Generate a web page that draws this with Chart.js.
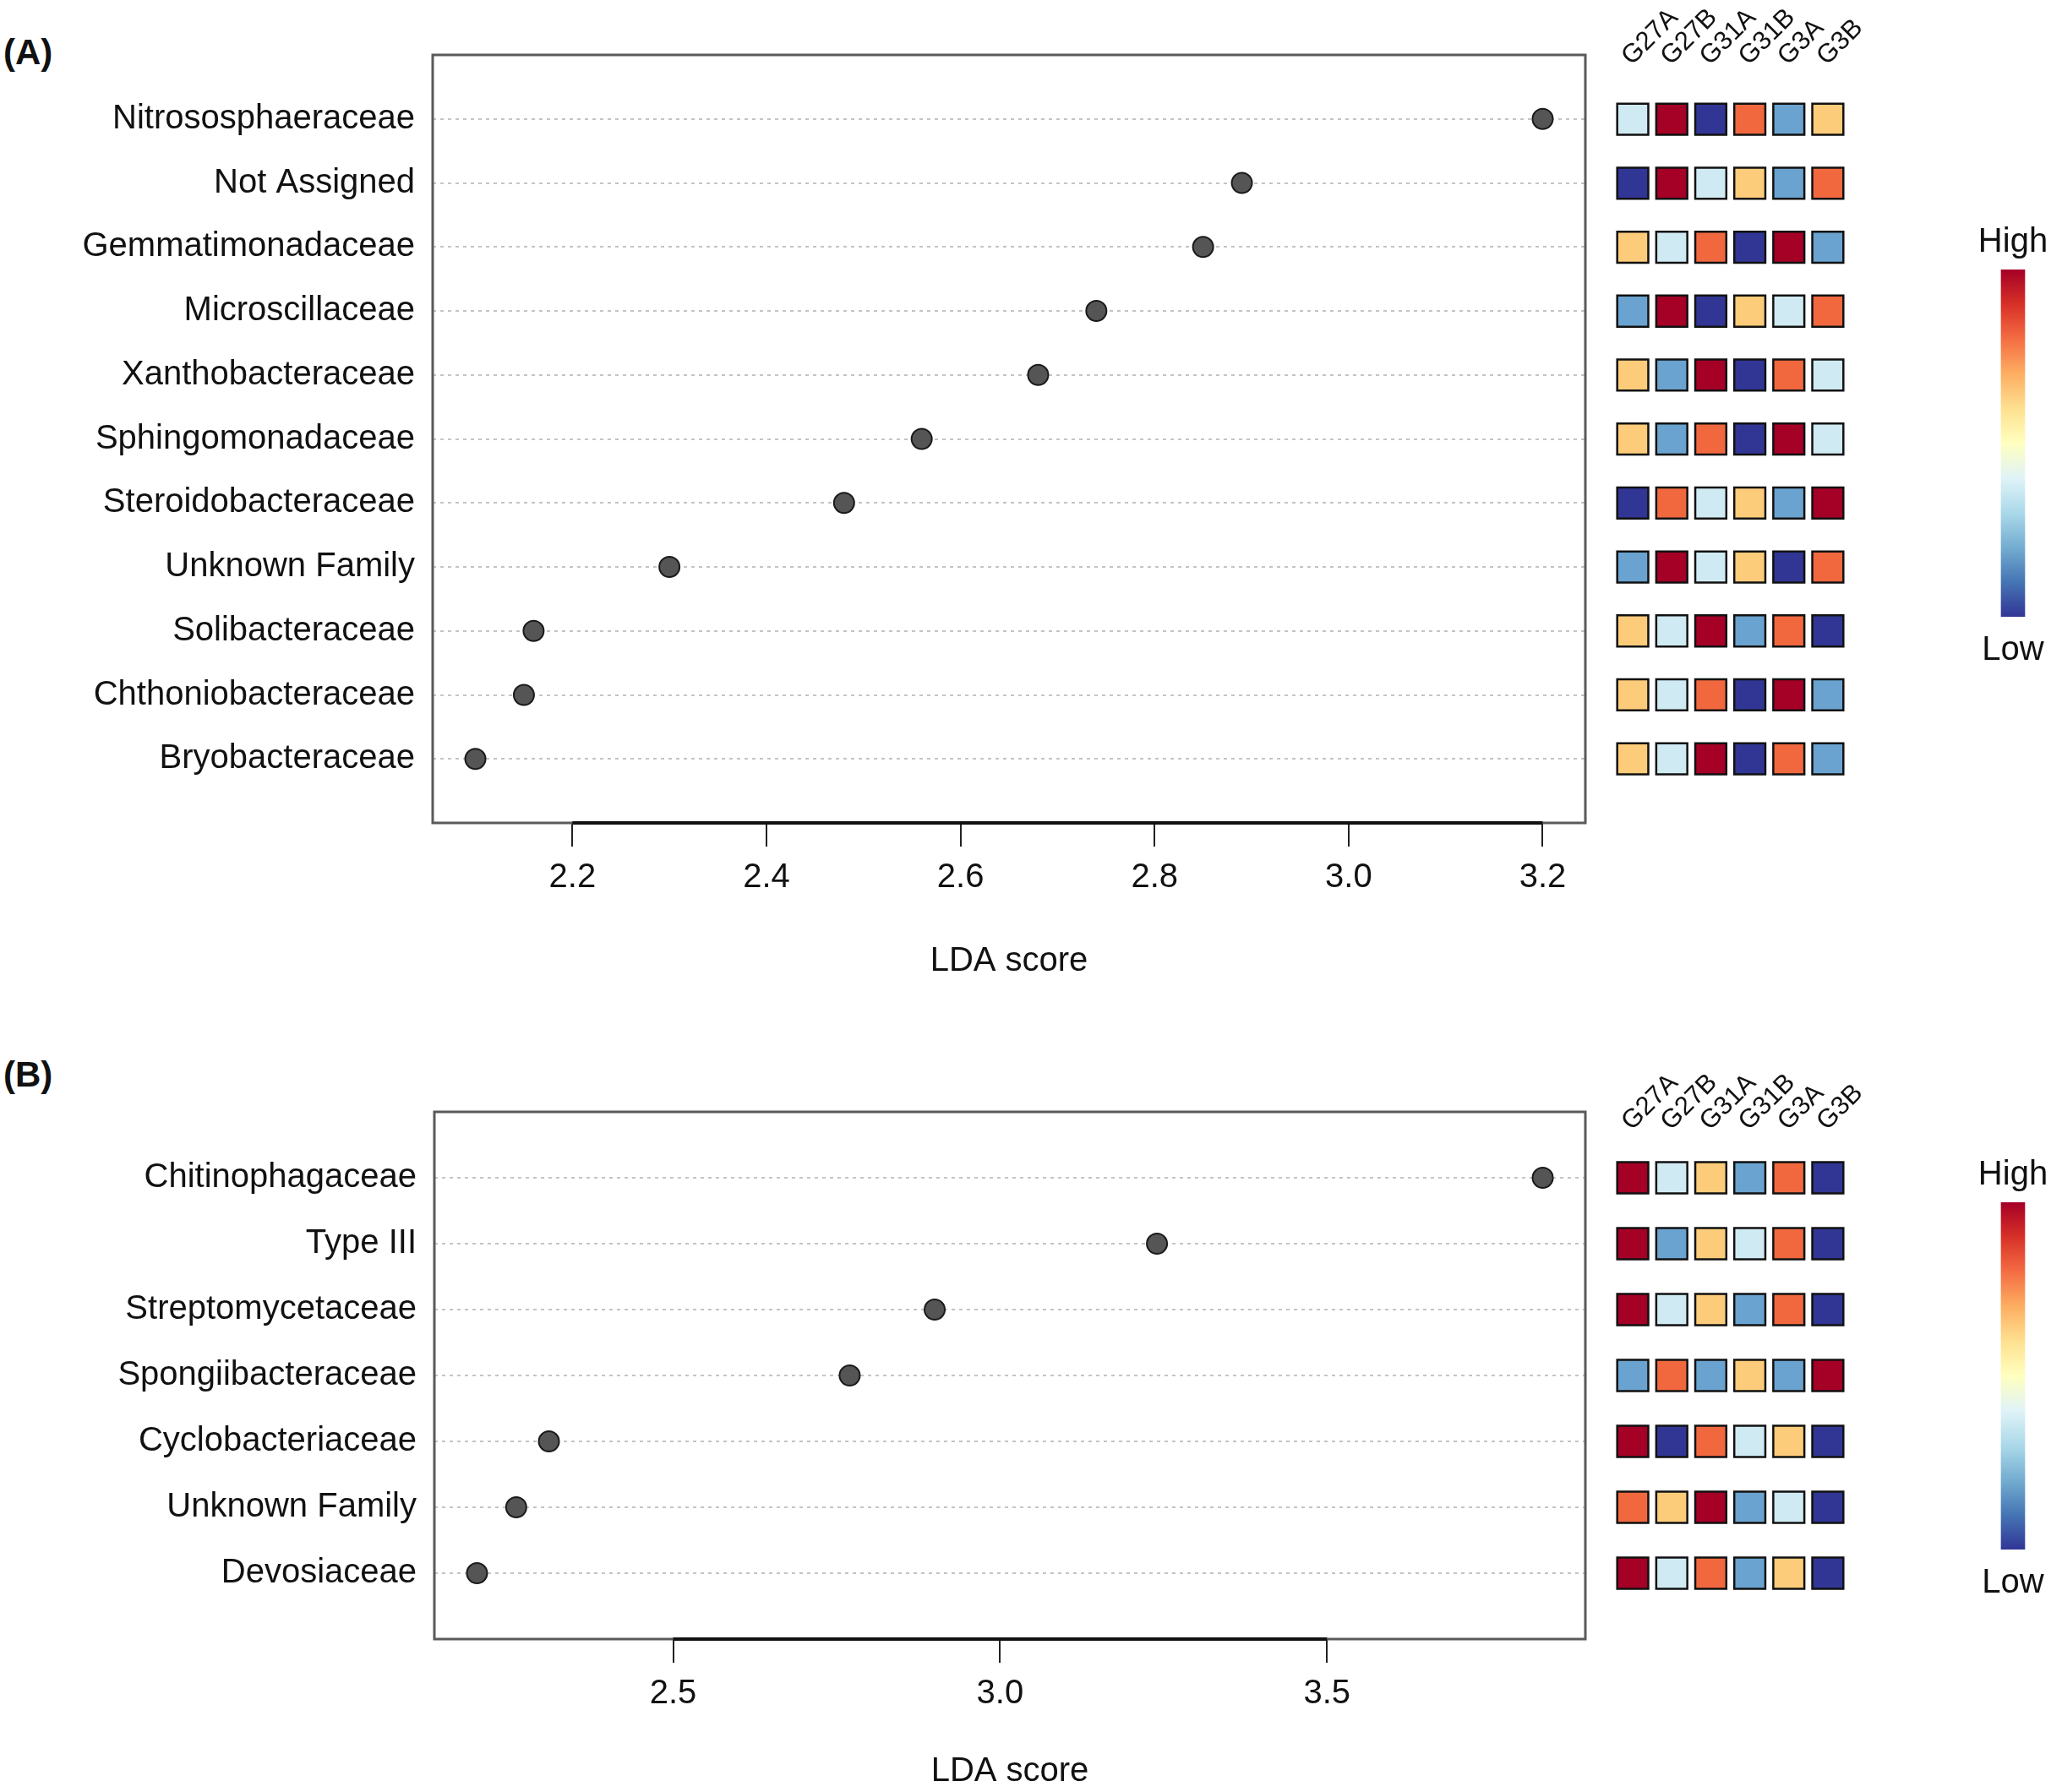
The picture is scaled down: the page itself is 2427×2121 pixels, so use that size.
<!DOCTYPE html>
<html>
<head>
<meta charset="utf-8">
<script src="https://cdn.jsdelivr.net/npm/chart.js@4.4.1/dist/chart.umd.min.js"></script>
<style>
  body { margin: 0; background: #fff; }
  #page { position: relative; width: 2427px; height: 2121px; background: #fff; overflow: hidden; }
  canvas { position: absolute; }
  .tag { position: absolute; font: bold 42px 'Liberation Sans', Arial, sans-serif; line-height: 48px; color: #111; }
</style>
</head>
<body>
<div id="page">
  <div class="tag" style="left:4px; top:38px">(A)</div>
  <div class="tag" style="left:4px; top:1248px">(B)</div>
  <canvas id="dotA" width="1890" height="1162" style="left:0; top:0"></canvas>
  <canvas id="heatA" width="330" height="960" style="left:1880px; top:0"></canvas>
  <canvas id="barA" width="200" height="549" style="left:2282px; top:250px"></canvas>
  <canvas id="dotB" width="1890" height="881" style="left:0; top:1240px"></canvas>
  <canvas id="heatB" width="330" height="681" style="left:1880px; top:1240px"></canvas>
  <canvas id="barB" width="200" height="549" style="left:2282px; top:1354px"></canvas>
</div>
<script>
// panel A
const famA = ['Nitrososphaeraceae', 'Not Assigned', 'Gemmatimonadaceae', 'Microscillaceae',
  'Xanthobacteraceae', 'Sphingomonadaceae', 'Steroidobacteraceae', 'Unknown Family',
  'Solibacteraceae', 'Chthoniobacteraceae', 'Bryobacteraceae'];
const ldaA = [3.20, 2.89, 2.85, 2.74, 2.68, 2.56, 2.48, 2.30, 2.16, 2.15, 2.10];
const tickA = [2.2, 2.4, 2.6, 2.8, 3.0, 3.2];
// relative abundance level per group, 1 = low ... 6 = high
const heatA = [
  [3, 6, 1, 5, 2, 4],
  [1, 6, 3, 4, 2, 5],
  [4, 3, 5, 1, 6, 2],
  [2, 6, 1, 4, 3, 5],
  [4, 2, 6, 1, 5, 3],
  [4, 2, 5, 1, 6, 3],
  [1, 5, 3, 4, 2, 6],
  [2, 6, 3, 4, 1, 5],
  [4, 3, 6, 2, 5, 1],
  [4, 3, 5, 1, 6, 2],
  [4, 3, 6, 1, 5, 2]
];

// panel B
const famB = ['Chitinophagaceae', 'Type III', 'Streptomycetaceae', 'Spongiibacteraceae',
  'Cyclobacteriaceae', 'Unknown Family', 'Devosiaceae'];
const ldaB = [3.83, 3.24, 2.90, 2.77, 2.31, 2.26, 2.20];
const tickB = [2.5, 3.0, 3.5];
const heatB = [
  [6, 3, 4, 2, 5, 1],
  [6, 2, 4, 3, 5, 1],
  [6, 3, 4, 2, 5, 1],
  [2, 5, 2, 4, 2, 6],
  [6, 1, 5, 3, 4, 1],
  [5, 4, 6, 2, 3, 1],
  [6, 3, 5, 2, 4, 1]
];

const groups = ['G27A', 'G27B', 'G31A', 'G31B', 'G3A', 'G3B'];
const levelColors = ['#313695', '#6aa3cf', '#d0eaf3', '#fdcc7a', '#f1683f', '#a50026'];
const rampColors = ['#313695', '#4575b4', '#74add1', '#abd9e9', '#e0f3f8', '#ffffbf',
  '#fee090', '#fdae61', '#f46d43', '#d73027', '#a50026'];

const FONT = "'Liberation Sans', Arial, sans-serif";
Chart.defaults.font.family = FONT;
Chart.defaults.color = '#111';

// plot box + R style axis segment
const frame = {
  id: 'frame',
  beforeDatasetsDraw(chart) {
    const { ctx, chartArea: a, scales: { x } } = chart;
    ctx.save();
    ctx.strokeStyle = '#5a5a5a';
    ctx.lineWidth = 3;
    ctx.strokeRect(a.left, a.top, a.right - a.left, a.bottom - a.top);
    const t = x.ticks;
    ctx.strokeStyle = '#111';
    ctx.lineWidth = 4;
    ctx.beginPath();
    ctx.moveTo(x.getPixelForValue(t[0].value), a.bottom);
    ctx.lineTo(x.getPixelForValue(t[t.length - 1].value), a.bottom);
    ctx.stroke();
    ctx.restore();
  }
};

function dotChart(id, fams, vals, ticks, padTop, axisW, axisH) {
  const lo = Math.min(...vals), hi = Math.max(...vals), ext = (hi - lo) * 0.04;
  return new Chart(document.getElementById(id), {
    type: 'scatter',
    data: {
      datasets: [{
        data: vals.map((v, i) => ({ x: v, y: i })),
        pointRadius: 12,
        pointHoverRadius: 12,
        backgroundColor: '#555',
        borderColor: '#1a1a1a',
        borderWidth: 2
      }]
    },
    options: {
      responsive: false,
      animation: false,
      events: [],
      devicePixelRatio: 1,
      layout: { autoPadding: false, padding: { top: padTop, right: 14, left: 0, bottom: 0 } },
      plugins: { legend: { display: false }, tooltip: { enabled: false } },
      scales: {
        x: {
          type: 'linear',
          min: lo - ext,
          max: hi + ext,
          afterBuildTicks: s => { s.ticks = ticks.map(v => ({ value: v })); },
          afterFit: s => { s.height = axisH; },
          grid: { drawOnChartArea: false, drawTicks: true, tickLength: 28, color: '#222', lineWidth: 2 },
          border: { display: false },
          ticks: { padding: 13, font: { size: 40 }, callback: v => v.toFixed(1) },
          title: { display: true, text: 'LDA score', font: { size: 40 }, padding: 0 }
        },
        y: {
          type: 'linear',
          min: -1,
          max: fams.length,
          reverse: true,
          afterBuildTicks: s => { s.ticks = fams.map((f, i) => ({ value: i })); },
          afterFit: s => { s.width = axisW; },
          grid: { drawTicks: false, color: '#c4c4c4', lineWidth: 2 },
          border: { display: false, dash: [4, 5] },
          ticks: { padding: 21, autoSkip: false, font: { size: 40 }, callback: v => fams[v] }
        }
      }
    },
    plugins: [frame]
  });
}

function heatChart(id, fams, cells, axisH, labelPad, padBottom) {
  const pts = [];
  cells.forEach((row, i) => row.forEach((lv, j) => pts.push({ x: groups[j], y: fams[i], lv: lv })));
  return new Chart(document.getElementById(id), {
    type: 'scatter',
    data: {
      datasets: [{
        data: pts,
        pointStyle: 'rect',
        pointRadius: 26,
        pointHoverRadius: 26,
        borderColor: '#111',
        borderWidth: 2.5,
        backgroundColor: c => (c.raw ? levelColors[c.raw.lv - 1] : '#fff')
      }]
    },
    options: {
      responsive: false,
      animation: false,
      events: [],
      devicePixelRatio: 1,
      layout: { autoPadding: false, padding: { left: 29, right: 24, top: 0, bottom: padBottom } },
      plugins: { legend: { display: false }, tooltip: { enabled: false } },
      scales: {
        x: {
          type: 'category',
          labels: groups,
          offset: true,
          position: 'top',
          afterFit: s => { s.height = axisH; s.paddingLeft = 0; s.paddingRight = 0; },
          grid: { display: false, drawTicks: false },
          border: { display: false },
          ticks: { minRotation: 45, maxRotation: 45, autoSkip: false, padding: labelPad, labelOffset: 19, font: { size: 31 } }
        },
        y: { type: 'category', labels: fams, offset: true, display: false }
      }
    }
  });
}

function rampChart(id) {
  const txt = { size: 40, weight: 'normal' };
  return new Chart(document.getElementById(id), {
    type: 'bar',
    data: {
      labels: [''],
      datasets: [{
        data: [[0, 1]],
        barThickness: 28,
        borderWidth: 0,
        backgroundColor: c => {
          const a = c.chart.chartArea;
          if (!a) return '#fff';
          const g = c.chart.ctx.createLinearGradient(0, a.bottom, 0, a.top);
          rampColors.forEach((col, k) => g.addColorStop(k / (rampColors.length - 1), col));
          return g;
        }
      }]
    },
    options: {
      responsive: false,
      animation: false,
      events: [],
      devicePixelRatio: 1,
      layout: { autoPadding: false, padding: 0 },
      plugins: {
        legend: { display: false },
        tooltip: { enabled: false },
        title: { display: true, text: 'High', font: txt, color: '#111', padding: { top: 13, bottom: 8 } },
        subtitle: { display: true, position: 'bottom', text: 'Low', font: txt, color: '#111', padding: { top: 16, bottom: 5 } }
      },
      scales: {
        x: { display: false },
        y: { display: false, min: 0, max: 1 }
      }
    }
  });
}

dotChart('dotA', famA, ldaA, tickA, 65, 512, 188);
heatChart('heatA', famA, heatA, 103.3, 18, 24);
rampChart('barA');

dotChart('dotB', famB, ldaB, tickB, 76, 514, 181);
heatChart('heatB', famB, heatB, 115, 9, 20);
rampChart('barB');
</script>
</body>
</html>
